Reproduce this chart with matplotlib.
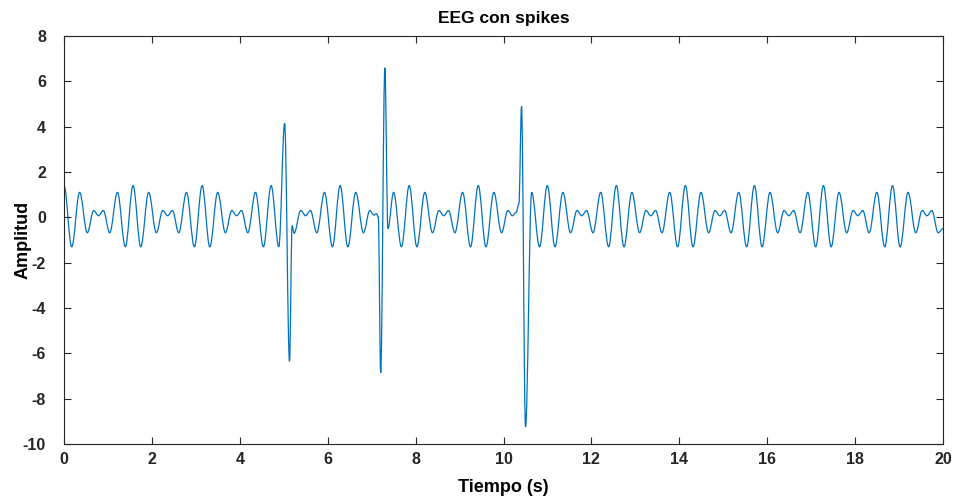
import matplotlib
matplotlib.use("Agg")
import matplotlib.pyplot as plt
from matplotlib.path import Path
from matplotlib.patches import PathPatch

# local peaks / troughs of the trace (time in s, amplitude)
t = [0.000, 0.175, 0.355, 0.530, 0.675, 0.785, 0.895, 1.040, 1.215, 1.395,
     1.571, 1.746, 1.926, 2.101, 2.246, 2.356, 2.466, 2.611, 2.786, 2.966,
     3.142, 3.317, 3.497, 3.672, 3.817, 3.927, 4.037, 4.182, 4.357, 4.537,
     4.712, 4.887, 5.020, 5.130, 5.190, 5.235, 5.387, 5.497, 5.607, 5.752, 5.927, 6.107,
     6.283, 6.458, 6.638, 6.813, 6.958, 7.050, 7.110, 7.150, 7.205, 7.300, 7.370, 7.498, 7.678,
     7.854, 8.029, 8.209, 8.384, 8.529, 8.639, 8.749, 8.894, 9.069, 9.249,
     9.425, 9.600, 9.780, 9.955, 10.100, 10.200, 10.290, 10.350, 10.410, 10.500, 10.640, 10.820,
     10.996, 11.171, 11.351, 11.526, 11.671, 11.781, 11.891, 12.036, 12.211, 12.391,
     12.566, 12.741, 12.921, 13.096, 13.241, 13.351, 13.461, 13.606, 13.781, 13.961,
     14.137, 14.312, 14.492, 14.667, 14.812, 14.922, 15.032, 15.177, 15.352, 15.532,
     15.708, 15.883, 16.063, 16.238, 16.383, 16.493, 16.603, 16.748, 16.923, 17.103,
     17.279, 17.454, 17.634, 17.809, 17.954, 18.064, 18.174, 18.319, 18.494, 18.674,
     18.850, 19.025, 19.205, 19.380, 19.525, 19.635, 19.745, 19.890, 20.000]

amp = [1.4, -1.3, 1.1, -0.68, 0.3, 0.07, 0.3, -0.68, 1.1, -1.3,
       1.4, -1.3, 1.1, -0.68, 0.3, 0.07, 0.3, -0.68, 1.1, -1.3,
       1.4, -1.3, 1.1, -0.68, 0.3, 0.07, 0.3, -0.68, 1.1, -1.3,
       1.4, -1.3, 4.15, -6.35, -0.37, -0.7, 0.3, 0.07, 0.3, -0.68, 1.1, -1.3,
       1.4, -1.3, 1.1, -0.68, 0.3, 0.1, 0.16, 0.02, -6.85, 6.6, -0.5, 1.1, -1.3,
       1.4, -1.3, 1.1, -0.68, 0.3, 0.07, 0.3, -0.68, 1.1, -1.3,
       1.4, -1.3, 1.1, -0.68, 0.3, 0.07, 0.22, 0.6, 4.9, -9.25, 1.1, -1.3,
       1.4, -1.3, 1.1, -0.68, 0.3, 0.07, 0.3, -0.68, 1.1, -1.3,
       1.4, -1.3, 1.1, -0.68, 0.3, 0.07, 0.3, -0.68, 1.1, -1.3,
       1.4, -1.3, 1.1, -0.68, 0.3, 0.07, 0.3, -0.68, 1.1, -1.3,
       1.4, -1.3, 1.1, -0.68, 0.3, 0.07, 0.3, -0.68, 1.1, -1.3,
       1.4, -1.3, 1.1, -0.68, 0.3, 0.07, 0.3, -0.68, 1.1, -1.3,
       1.4, -1.3, 1.1, -0.68, 0.3, 0.07, 0.3, -0.68, -0.5]

xticks = [0, 2, 4, 6, 8, 10, 12, 14, 16, 18, 20]
yticks = [8, 6, 4, 2, 0, -2, -4, -6, -8, -10]

plt.rcParams['font.family'] = ['Liberation Sans', 'DejaVu Sans']
plt.rcParams['font.weight'] = 'bold'
plt.rcParams['axes.unicode_minus'] = False

fig = plt.figure(figsize=(9.57, 4.99), dpi=100)
ax = fig.add_axes([0.0669, 0.1102, 0.9185, 0.8177])

# smooth curve through the extrema (flat tangent at each peak/trough)
verts = [(t[0], amp[0])]
codes = [Path.MOVETO]
for i in range(len(t) - 1):
    d = t[i + 1] - t[i]
    verts += [(t[i] + 0.36 * d, amp[i]), (t[i + 1] - 0.36 * d, amp[i + 1]), (t[i + 1], amp[i + 1])]
    codes += [Path.CURVE4] * 3
ax.add_patch(PathPatch(Path(verts, codes), fill=False, edgecolor='#0072BD', linewidth=0.9))

ax.set_xlim(0, 20)
ax.set_ylim(-10, 8)
ax.set_xticks(xticks)
ax.set_yticks(yticks)
ax.tick_params(direction='in', top=True, right=True, length=5, width=0.8,
               labelsize=11.5, colors='#262626')
ax.tick_params(axis='x', pad=6)
ax.tick_params(axis='y', pad=13)
for s in ax.spines.values():
    s.set_color('#262626')
    s.set_linewidth(0.8)

ax.set_title('EEG con spikes', fontsize=12.5, fontweight='bold', pad=9)
ax.set_xlabel('Tiempo (s)', fontsize=13, fontweight='bold')
ax.set_ylabel('Amplitud', fontsize=13, fontweight='bold')
ax.xaxis.set_label_coords(0.5, -0.085)
ax.yaxis.set_label_coords(-0.037, 0.5)

fig.savefig('out.png', dpi=100)
